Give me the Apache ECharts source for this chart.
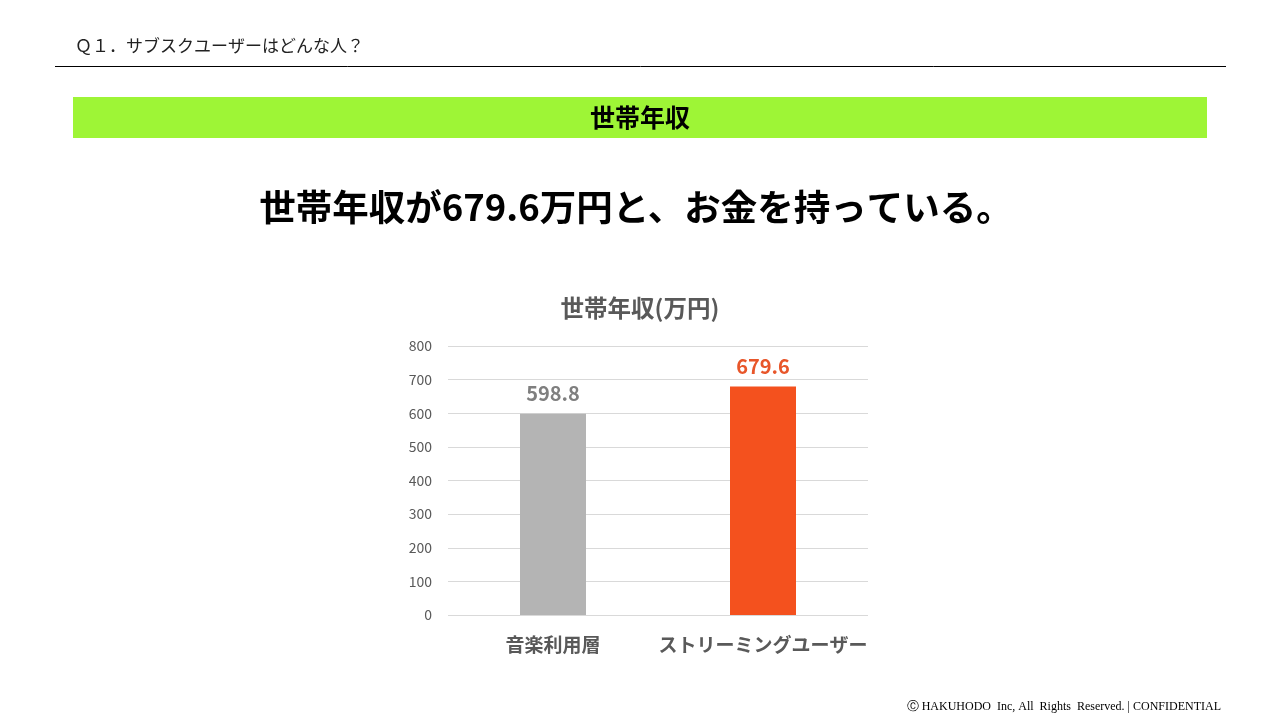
<!DOCTYPE html>
<html><head><meta charset="utf-8">
<script src="https://cdn.jsdelivr.net/npm/echarts@6/dist/echarts.min.js"></script>
<style>html,body{margin:0;padding:0;background:#fff}#c{width:1280px;height:720px}</style>
</head><body><div id="c"></div>
<script>
const categories = ['音楽利用層', 'ストリーミングユーザー'];
const values = [598.8, 679.6];
const barColors = ['#b4b4b4', '#f4511e'];
const labelColors = ['#7f7f7f', '#e8562a'];
const yTicks = [0, 100, 200, 300, 400, 500, 600, 700, 800];

const jp = '"Noto Sans CJK JP", "Noto Sans", sans-serif';
const chart = echarts.init(document.getElementById('c'));
chart.setOption({
  animation: false,
  backgroundColor: '#fff',
  title: {
    text: '世帯年収(万円)', left: 'center', top: 291,
    textStyle: { fontFamily: jp, fontSize: 23.5, fontWeight: 'bold', color: '#595959' }
  },
  grid: { left: 448, right: 412, top: 346, bottom: 105, containLabel: false },
  xAxis: {
    type: 'category', data: categories,
    axisLine: { show: false }, axisTick: { show: false },
    axisLabel: { interval: 0, margin: 20, fontFamily: jp, fontSize: 19, fontWeight: 'bold', color: '#595959' }
  },
  yAxis: {
    type: 'value', min: yTicks[0], max: yTicks[yTicks.length - 1], interval: 100,
    axisLine: { show: false }, axisTick: { show: false },
    splitLine: { lineStyle: { color: '#d9d9d9', width: 1 } },
    axisLabel: { margin: 16, fontFamily: jp, fontSize: 14, color: '#595959' }
  },
  series: [{
    type: 'bar', barWidth: 66,
    data: values.map((v, i) => ({
      value: v,
      itemStyle: { color: barColors[i] },
      label: { color: labelColors[i] }
    })),
    label: {
      show: true, position: 'top', distance: 10,
      fontFamily: jp, fontSize: 20, fontWeight: 'bold',
      formatter: p => p.value.toFixed(1)
    }
  }],
  graphic: [
    { type: 'text', left: 75, top: 35,
      style: { text: 'Ｑ１．サブスクユーザーはどんな人？', fontFamily: jp, fontSize: 17, fill: '#222', lineHeight: 22 } },
    { type: 'line', shape: { x1: 55, y1: 66.5, x2: 1226, y2: 66.5 }, style: { stroke: '#000', lineWidth: 1 } },
    { type: 'rect', shape: { x: 73, y: 97, width: 1134, height: 41 }, style: { fill: '#9ef536' } },
    { type: 'text', x: 640, y: 117,
      style: { text: '世帯年収', fontFamily: jp, fontSize: 25, fontWeight: 'bold', fill: '#000', align: 'center', verticalAlign: 'middle' } },
    { type: 'text', x: 636, y: 207,
      style: { text: '世帯年収が679.6万円と、お金を持っている。', fontFamily: jp, fontSize: 36.5, fontWeight: 'bold', fill: '#000', align: 'center', verticalAlign: 'middle' } },
    { type: 'text', x: 1221, y: 707,
      style: { text: 'Ⓒ HAKUHODO  Inc, All  Rights  Reserved. | CONFIDENTIAL', fontFamily: '"Liberation Serif", "DejaVu Serif", serif', fontSize: 12, fill: '#000', align: 'right', verticalAlign: 'middle' } }
  ]
});
</script></body></html>
